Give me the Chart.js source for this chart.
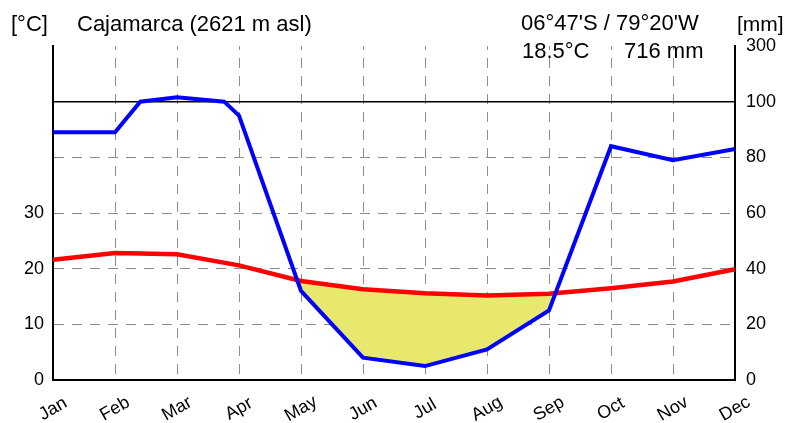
<!DOCTYPE html>
<html>
<head>
<meta charset="utf-8">
<script src="https://cdn.jsdelivr.net/npm/chart.js@4/dist/chart.umd.min.js"></script>
<style>
  html, body { margin: 0; padding: 0; background: #fff; }
  canvas { display: block; }
</style>
</head>
<body>
<canvas id="climate" width="787" height="423"></canvas>
<script>
// Monthly climate normals, Cajamarca
const months = ['Jan', 'Feb', 'Mar', 'Apr', 'May', 'Jun', 'Jul', 'Aug', 'Sep', 'Oct', 'Nov', 'Dec'];
const tempC = [21.6, 22.8, 22.6, 20.6, 17.8, 16.3, 15.6, 15.2, 15.5, 16.5, 17.7, 19.9];
const precipMm = [89, 89, 116, 95, 32, 8, 5, 11, 25, 84, 79, 83];
const tempTicks = [0, 10, 20, 30];
const precipTickLabels = ['0', '20', '40', '60', '80', '100', '300'];

const stationName = 'Cajamarca (2621 m asl)';
const coords = "06°47'S / 79°20'W";
const annualTemp = '18.5°C';
const annualPrecip = '716 mm';

// Walter–Lieth scale: 10 °C = 20 mm up to 100 mm, above that 10 °C = 200 mm
function precipToScale(mm) {
  return mm <= 100 ? mm / 2 : 50 + (mm - 100) / 20;
}

const FONT = '"Liberation Sans", Arial, Helvetica, sans-serif';
const GRID = '#8c8c8c';
Chart.defaults.font.family = FONT;
Chart.defaults.color = '#000';

// Blue precipitation curve, broken where it crosses the 100 mm scale change
const precipLine = {
  id: 'precipLine',
  afterDatasetsDraw(chart) {
    const xs = chart.scales.x, ys = chart.scales.y, ctx = chart.ctx;
    const pts = [];
    for (let i = 0; i < precipMm.length; i++) {
      const x = xs.getPixelForValue(i);
      if (i > 0) {
        const a = precipMm[i - 1], b = precipMm[i];
        if ((a - 100) * (b - 100) < 0) {
          const t = (100 - a) / (b - a);
          const x0 = xs.getPixelForValue(i - 1);
          pts.push([x0 + t * (x - x0), ys.getPixelForValue(50)]);
        }
      }
      pts.push([x, ys.getPixelForValue(precipToScale(precipMm[i]))]);
    }
    ctx.save();
    ctx.strokeStyle = '#0000ff';
    ctx.lineWidth = 4;
    ctx.lineJoin = 'miter';
    ctx.beginPath();
    pts.forEach((p, k) => k ? ctx.lineTo(p[0], p[1]) : ctx.moveTo(p[0], p[1]));
    ctx.stroke();
    ctx.restore();
  }
};

// Header texts and slanted month labels
const annotations = {
  id: 'annotations',
  afterDraw(chart) {
    const ctx = chart.ctx, xs = chart.scales.x;
    ctx.save();
    ctx.fillStyle = '#000';
    ctx.textBaseline = 'middle';
    ctx.textAlign = 'left';
    ctx.font = '22px ' + FONT;
    ctx.fillText('[°C]', 11, 25);
    ctx.fillText(stationName, 77, 25);
    ctx.fillText(coords, 521, 24);
    ctx.fillText(annualTemp, 522, 52);
    ctx.fillText(annualPrecip, 624, 52);
    ctx.font = '21px ' + FONT;
    ctx.fillText('[mm]', 737, 25);

    ctx.font = '18px ' + FONT;
    ctx.textAlign = 'center';
    months.forEach((m, i) => {
      ctx.save();
      ctx.translate(xs.getPixelForValue(i), 409);
      ctx.rotate(-30 * Math.PI / 180);
      ctx.fillText(m, 0, 0);
      ctx.restore();
    });
    ctx.restore();
  }
};

new Chart(document.getElementById('climate'), {
  type: 'line',
  data: {
    labels: months,
    datasets: [
      {
        label: 'Temperature',
        data: tempC,
        borderColor: '#ff0000',
        borderWidth: 4.5,
        pointRadius: 0,
        tension: 0,
        fill: false,
        yAxisID: 'y'
      },
      {
        label: 'Precipitation',
        data: precipMm.map(precipToScale),
        borderColor: 'rgba(0,0,0,0)',
        borderWidth: 0,
        pointRadius: 0,
        tension: 0,
        fill: { target: 0, above: 'rgba(0,0,0,0)', below: '#e8e86e' },
        yAxisID: 'y'
      }
    ]
  },
  options: {
    responsive: false,
    animation: false,
    events: [],
    layout: { padding: { top: 46, left: 0, right: 0, bottom: 0 } },
    plugins: { legend: { display: false }, tooltip: { enabled: false } },
    scales: {
      x: {
        type: 'category',
        offset: false,
        ticks: { display: false },
        grid: {
          drawTicks: false,
          lineWidth: 1,
          color: c => (c.index === 0 || c.index === months.length - 1) ? 'rgba(0,0,0,0)' : GRID
        },
        border: { display: true, color: '#000', width: 2, dash: [10, 8], dashOffset: 6 },
        afterFit: s => { s.height = 43; }
      },
      y: {
        position: 'left',
        min: 0,
        max: 60,
        ticks: {
          stepSize: 10,
          padding: 9,
          font: { size: 18 },
          callback: v => tempTicks.includes(v) ? String(v) : ''
        },
        grid: {
          drawTicks: false,
          lineWidth: 1,
          color: c => (c.tick && c.tick.value >= 10 && c.tick.value <= 40) ? GRID : 'rgba(0,0,0,0)'
        },
        border: { display: true, color: '#000', width: 2, dash: [10, 8] },
        afterFit: s => { s.width = 53; }
      },
      y2: {
        position: 'right',
        min: 0,
        max: 60,
        ticks: {
          stepSize: 10,
          padding: 11,
          font: { size: 18 },
          callback: (v, i) => precipTickLabels[i] ?? ''
        },
        grid: {
          drawTicks: false,
          lineWidth: 1.5,
          color: c => (c.tick && c.tick.value === 50) ? '#000' : 'rgba(0,0,0,0)'
        },
        border: { display: true, color: '#000', width: 2 },
        afterFit: s => { s.width = 52; }
      }
    }
  },
  plugins: [precipLine, annotations]
});
</script>
</body>
</html>
